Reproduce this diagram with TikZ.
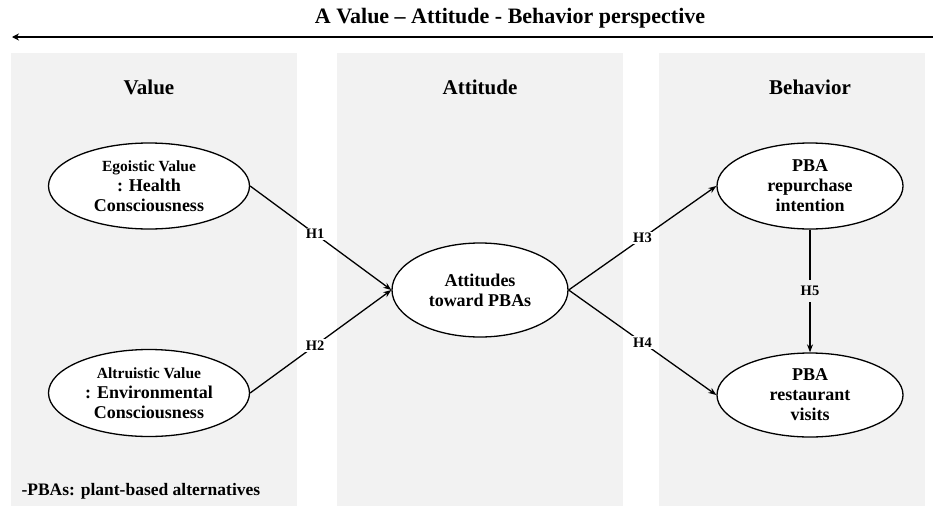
\documentclass[tikz,border=0pt]{standalone}
\usepackage{fontspec}
\setmainfont{Liberation Serif}
\usetikzlibrary{shapes.geometric,arrows.meta}
\definecolor{panelgray}{RGB}{242,242,242}
\begin{document}
\begin{tikzpicture}[x=1pt,y=-1pt,
  panel/.style={fill=panelgray,draw=none},
  construct/.style={ellipse,draw=black,line width=1.3pt,fill=white,inner sep=0pt,
    align=center,font=\fontsize{18}{20}\selectfont\bfseries},
  heading/.style={font=\fontsize{21}{24}\selectfont\bfseries},
  hyp/.style={fill=white,inner sep=1.5pt,font=\fontsize{14.5}{16}\selectfont\bfseries},
  link/.style={line width=1.3pt,-{Stealth[length=8pt,width=6pt]}}]
\useasboundingbox (0,0) rectangle (933,506);
\fill[white] (0,0) rectangle (933,506);

% perspective arrow and title
\node[font=\fontsize{22}{25}\selectfont\bfseries] (title) at (510,18) {A Value -- Attitude - Behavior perspective};
\coordinate (arrR) at (933,37);
\coordinate (arrL) at (12,37);
\draw[line width=2.8pt,-{Stealth[length=7pt,width=7pt]}] (arrR) -- (arrL);

% background panels
\fill[panel] (11,53) rectangle (297,506);
\fill[panel] (337,53) rectangle (623,506);
\fill[panel] (659,53) rectangle (925,506);

\node[heading] (hv) at (149,87) {Value};
\node[heading] (ha) at (480,87) {Attitude};
\node[heading] (hb) at (810,87) {Behavior};

% constructs
\node[construct,minimum width=201pt,minimum height=86pt] (ego) at (149,186)
  {{\fontsize{15.5}{20}\selectfont Egoistic Value}\\: Health\\Consciousness};
\node[construct,minimum width=201pt,minimum height=87pt] (alt) at (149,393)
  {{\fontsize{15.5}{20}\selectfont Altruistic Value}\\: Environmental\\Consciousness};
\node[construct,minimum width=176pt,minimum height=94pt] (att) at (480,290)
  {Attitudes\\toward PBAs};
\node[construct,minimum width=186pt,minimum height=86pt] (rep) at (810,186)
  {PBA\\repurchase\\intention};
\node[construct,minimum width=186pt,minimum height=84pt] (vis) at (810,395)
  {PBA\\restaurant\\visits};

% hypothesised paths
\draw[link] (ego.east) -- node[hyp,pos=0.46] {H1} (att.west);
\draw[link] (alt.east) -- node[hyp,pos=0.46] {H2} (att.west);
\draw[link] (att.east) -- node[hyp,pos=0.5] {H3} (rep.west);
\draw[link] (att.east) -- node[hyp,pos=0.5] {H4} (vis.west);
\draw[link] (rep.south) -- node[hyp,fill=panelgray,inner ysep=6pt] {H5} (vis.north);

% footnote
\node[anchor=west,font=\fontsize{17.5}{20}\selectfont\bfseries] (note) at (18,491) {-PBAs: plant-based alternatives};
\end{tikzpicture}
\end{document}
